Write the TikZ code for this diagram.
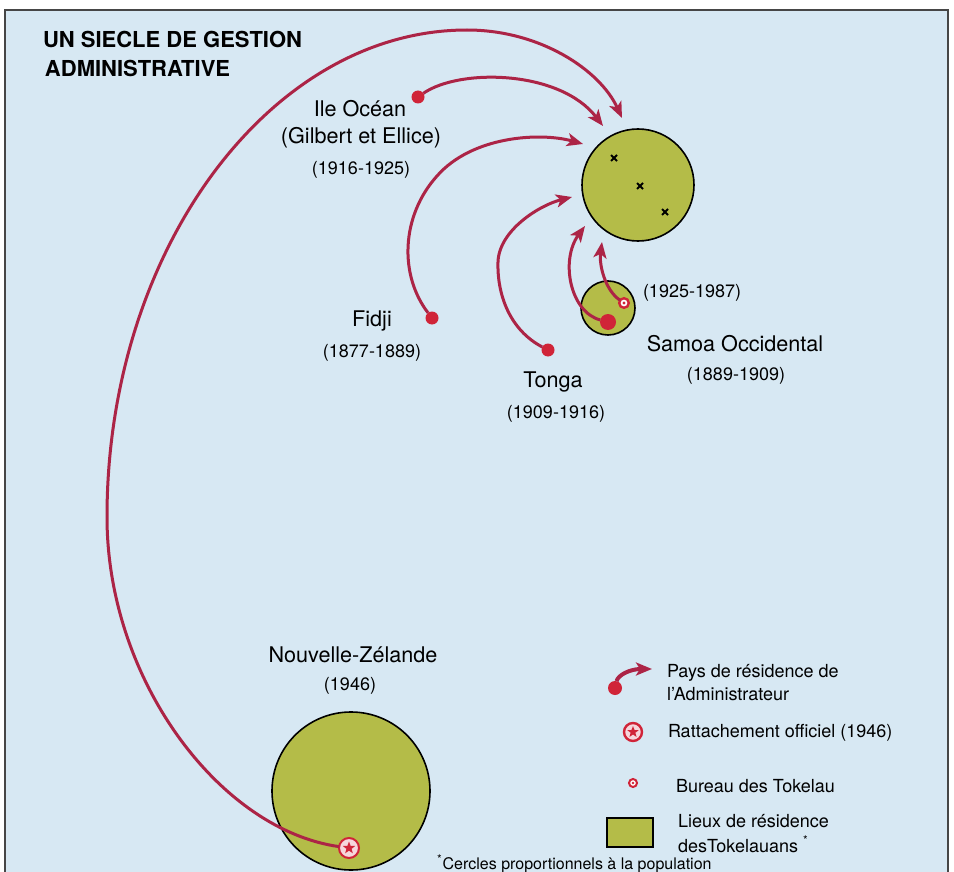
\documentclass[tikz,border=0pt]{standalone}
\usepackage{fontspec}
\setmainfont{TeX Gyre Heros}
\usetikzlibrary{arrows.meta,shapes.geometric,shapes.misc}
\definecolor{seablue}{RGB}{215,232,243}
\definecolor{landgreen}{RGB}{180,188,72}
\definecolor{admred}{RGB}{172,36,70}
\definecolor{dotred}{RGB}{208,36,56}
\definecolor{starpink}{RGB}{246,214,220}
\definecolor{framegray}{RGB}{70,70,70}
\begin{document}
\begin{tikzpicture}[x=0.5pt,y=-0.5pt,
  every node/.style={inner sep=0pt,outer sep=0pt},
  title/.style={font=\bfseries\fontsize{11}{13}\selectfont,anchor=base west},
  place/.style={font=\fontsize{10.8}{13}\selectfont,anchor=base},
  years/.style={font=\fontsize{9}{11}\selectfont,anchor=base},
  legtext/.style={font=\fontsize{9}{11}\selectfont,anchor=base west},
  land/.style={circle,fill=landgreen,draw=black,line width=0.8pt},
  resdot/.style={circle,fill=dotred,minimum size=6.5pt},
  bureauring/.style={circle,fill=white,draw=dotred,line width=1.2pt,minimum size=4.8pt},
  bureaucore/.style={circle,fill=dotred,minimum size=1.6pt},
  starring/.style={circle,fill=starpink,draw=dotred,line width=1pt,minimum size=10pt},
  starcore/.style={star,star points=5,star point ratio=2.4,fill=dotred,minimum size=6.5pt},
  xmark/.style={cross out,draw=black,line width=1pt,minimum size=3pt},
  admline/.style={draw=admred,line width=1.5pt,-{Stealth[length=8pt,width=6.5pt,inset=2pt]}}]
\useasboundingbox (0,0) rectangle (954,872);
\fill[white] (0,0) rectangle (954,872);
\fill[seablue] (5,10) rectangle (948,872);
\draw[framegray,line width=1pt] (5,872) -- (5,10) -- (948,10) -- (948,872);

\node[title] (title1) at (43,48) {UN SIECLE DE GESTION};
\node[title] (title2) at (45,77) {ADMINISTRATIVE};

\node[land,minimum size=56pt] (tokelau) at (638,185) {};
\node[land,minimum size=27pt] (samoaland) at (608,308) {};
\node[land,minimum size=79pt] (nzland) at (351,791) {};

\node[xmark] (atoll1) at (614,158) {};
\node[xmark] (atoll2) at (640,186) {};
\node[xmark] (atoll3) at (665,212) {};

\coordinate (tipnz) at (622,118);
\coordinate (tipocean) at (603,126);
\coordinate (tipfidji) at (583,144);
\coordinate (tiptonga) at (572,197);
\coordinate (tipsamoa) at (585,226);
\coordinate (tipbureau) at (602,242);

\node[resdot] (oceandot) at (418,97) {};
\node[resdot] (fidjidot) at (432,318) {};
\node[resdot] (tongadot) at (548,350) {};
\node[resdot,minimum size=8pt] (samoadot) at (608,322) {};
\node[bureauring] (bureau) at (624,303) {};
\node[bureaucore] (bureaudot) at (bureau) {};
\node[starring] (nzstar) at (349,848) {};
\node[starcore] (nzstarin) at (nzstar) {};

\draw[admline] (nzstar) .. controls (220,830) and (107,680) .. (107,517)
  .. controls (107,250) and (270,30) .. (467,30)
  .. controls (540,30) and (600,70) .. (tipnz);
\draw[admline] (oceandot) .. controls (460,68) and (560,70) .. (tipocean);
\draw[admline] (fidjidot) .. controls (399,275) and (401,216) .. (437,176)
  .. controls (472,136) and (540,132) .. (tipfidji);
\draw[admline] (tongadot) .. controls (510,330) and (497,295) .. (498,262)
  .. controls (499,230) and (540,205) .. (tiptonga);
\draw[admline] (samoadot) .. controls (570,312) and (560,260) .. (tipsamoa);
\draw[admline] (bureau) .. controls (605,290) and (599,265) .. (tipbureau);

\node[place] (ocean) at (360,117) {Ile Océan};
\node[place] (gilbert) at (361,144) {(Gilbert et Ellice)};
\node[years] (oceanyrs) at (361,175) {(1916-1925)};
\node[place] (fidji) at (372,326) {Fidji};
\node[years] (fidjiyrs) at (372,357) {(1877-1889)};
\node[place] (tonga) at (553,387) {Tonga};
\node[years] (tongayrs) at (556,418) {(1909-1916)};
\node[years,anchor=base west] (bureauyrs) at (643,297) {(1925-1987)};
\node[place] (samoa) at (735,351) {Samoa Occidental};
\node[years] (samoayrs) at (736,380) {(1889-1909)};
\node[place] (nz) at (353,662) {Nouvelle-Zélande};
\node[years] (nzyrs) at (350,690) {(1946)};

\coordinate (legtip) at (652,669);
\node[resdot,minimum size=7pt] (legdot) at (615,688) {};
\draw[admline,line width=2pt] (legdot) .. controls (618,675) and (630,669) .. (legtip);
\node[legtext] (legadm1) at (667,677) {Pays de résidence de};
\node[legtext] (legadm2) at (667,700) {l'Administrateur};
\node[starring,minimum size=9pt,line width=1.2pt] (legstar) at (633,732) {};
\node[starcore,minimum size=6pt] (legstarin) at (legstar) {};
\node[legtext] (legattach) at (668,737) {Rattachement officiel (1946)};
\node[bureauring,minimum size=4pt,line width=1pt] (legbureau) at (633,783) {};
\node[bureaucore,minimum size=1.4pt] (legbureaudot) at (legbureau) {};
\node[legtext] (legoffice) at (676,792) {Bureau des Tokelau};
\node[draw=black,fill=landgreen,line width=1pt,minimum width=23pt,minimum height=14.5pt] (legland) at (630,832) {};
\node[legtext] (legres1) at (678,827) {Lieux de résidence};
\node[legtext] (legres2) at (678,852) {desTokelauans \textsuperscript{*}};
\node[legtext,font=\fontsize{8}{10}\selectfont] (footnote) at (437,869) {\textsuperscript{*}Cercles proportionnels à la population};
\end{tikzpicture}
\end{document}
